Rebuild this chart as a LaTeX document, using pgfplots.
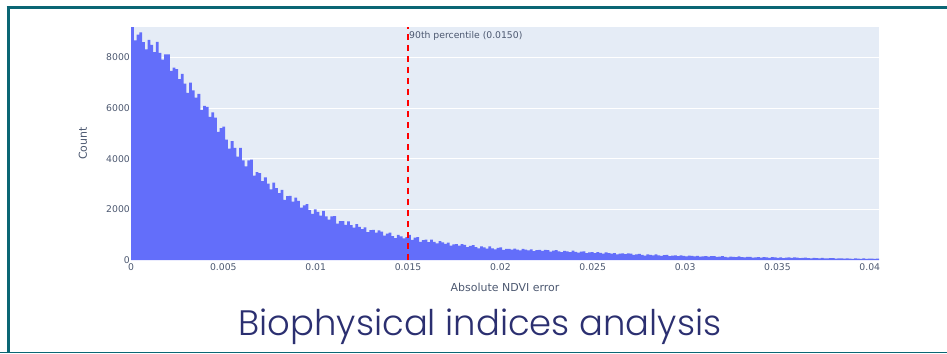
\documentclass[border=0pt]{standalone}
\usepackage{pgfplots}
\pgfplotsset{compat=1.18}
\usepackage{fontspec}
\setmainfont{DejaVu Sans}
\newfontfamily\titlefont{Poppins}[UprightFont=* Light]
\definecolor{framec}{HTML}{0B6674}
\definecolor{bgc}{HTML}{E5ECF6}
\definecolor{barc}{HTML}{636EFA}
\definecolor{tickc}{HTML}{4C5870}
\definecolor{titlec}{HTML}{2B2F70}
\begin{document}
\begin{tikzpicture}[x=1bp,y=1bp]
\path[use as bounding box] (0,0) rectangle (947,353);
\begin{axis}[
  at={(131bp,93bp)}, anchor=south west,
  scale only axis, width=748bp, height=233bp,
  xmin=0, xmax=0.0405, ymin=0, ymax=9210,
  axis background/.style={fill=bgc},
  axis line style={draw=none},
  tick style={draw=none},
  ymajorgrids, major grid style={white, line width=1bp},
  ytick={0,2000,4000,6000,8000},
  xtick={0,0.005,0.01,0.015,0.02,0.025,0.03,0.035,0.04},
  scaled x ticks=false, scaled y ticks=false,
  x tick label style={/pgf/number format/fixed, /pgf/number format/precision=3},
  y tick label style={/pgf/number format/set thousands separator={}, inner sep=1bp},
  /pgf/number format/assume math mode=true,
  tick label style={font=\fontsize{9.3}{10}\selectfont, text=tickc},
  xlabel={Absolute NDVI error}, ylabel={Count},
  every axis x label/.style={at={(axis description cs:0.5,-0.116)}, anchor=center, text=tickc, font=\fontsize{11}{12}\selectfont},
  every axis y label/.style={at={(axis description cs:-0.0642,0.5)}, anchor=center, rotate=90, text=tickc, font=\fontsize{11}{12}\selectfont},
  clip=true,
]
\addplot[fill=barc, draw=none, const plot mark left] table {
x y
0.00000 9200
0.00015 8685
0.00030 8910
0.00045 9000
0.00060 8610
0.00075 8325
0.00090 8700
0.00105 8505
0.00120 8220
0.00135 8625
0.00150 8190
0.00165 7920
0.00180 8130
0.00195 8130
0.00210 7480
0.00225 7600
0.00240 7540
0.00255 7150
0.00270 7360
0.00285 6970
0.00300 6610
0.00315 7015
0.00330 6700
0.00345 6415
0.00360 6570
0.00375 5925
0.00390 6090
0.00405 6050
0.00420 5660
0.00435 5840
0.00450 5630
0.00465 5060
0.00480 5210
0.00495 5270
0.00510 4760
0.00525 4400
0.00540 4700
0.00555 4435
0.00570 4090
0.00585 4435
0.00600 3940
0.00615 3700
0.00630 3940
0.00645 3970
0.00660 3340
0.00675 3475
0.00690 3430
0.00705 3120
0.00720 3270
0.00735 3020
0.00750 2790
0.00765 3055
0.00780 2840
0.00795 2645
0.00810 2770
0.00825 2375
0.00840 2520
0.00855 2530
0.00870 2310
0.00885 2470
0.00900 2340
0.00915 2070
0.00930 2160
0.00945 2205
0.00960 1975
0.00975 1825
0.00990 2005
0.01005 1900
0.01020 1750
0.01035 1945
0.01050 1720
0.01065 1600
0.01080 1720
0.01095 1735
0.01110 1440
0.01125 1535
0.01140 1540
0.01155 1385
0.01170 1530
0.01185 1380
0.01200 1280
0.01215 1417
0.01230 1314
0.01245 1221
0.01260 1290
0.01275 1100
0.01290 1180
0.01305 1191
0.01320 1084
0.01335 1167
0.01350 1120
0.01365 959
0.01380 1038
0.01395 1087
0.01410 948
0.01425 860
0.01440 992
0.01455 935
0.01470 850
0.01485 900
0.01500 990
0.01515 792
0.01530 884
0.01545 906
0.01560 718
0.01575 790
0.01590 802
0.01605 705
0.01620 810
0.01635 715
0.01650 662
0.01665 749
0.01680 692
0.01695 641
0.01710 684
0.01725 570
0.01740 618
0.01755 626
0.01770 568
0.01785 623
0.01800 601
0.01815 507
0.01830 556
0.01845 588
0.01860 506
0.01875 455
0.01890 536
0.01905 503
0.01920 452
0.01935 539
0.01950 458
0.01965 420
0.01980 479
0.01995 495
0.02010 397
0.02025 436
0.02040 443
0.02055 406
0.02070 448
0.02085 411
0.02100 378
0.02115 442
0.02130 409
0.02145 381
0.02160 416
0.02175 348
0.02190 387
0.02205 398
0.02220 363
0.02235 403
0.02250 392
0.02265 332
0.02280 368
0.02295 392
0.02310 340
0.02325 308
0.02340 363
0.02355 342
0.02370 310
0.02385 370
0.02400 317
0.02415 293
0.02430 332
0.02445 343
0.02460 271
0.02475 302
0.02490 310
0.02505 273
0.02520 316
0.02535 279
0.02550 253
0.02565 299
0.02580 273
0.02595 250
0.02610 275
0.02625 222
0.02640 251
0.02655 258
0.02670 230
0.02685 258
0.02700 248
0.02715 201
0.02730 227
0.02745 244
0.02760 203
0.02775 177
0.02790 218
0.02805 202
0.02820 178
0.02835 223
0.02850 184
0.02865 166
0.02880 196
0.02895 205
0.02910 151
0.02925 175
0.02940 181
0.02955 154
0.02970 187
0.02985 160
0.03000 144
0.03015 176
0.03030 159
0.03045 145
0.03060 163
0.03075 129
0.03090 148
0.03105 154
0.03120 136
0.03135 156
0.03150 150
0.03165 119
0.03180 137
0.03195 149
0.03210 122
0.03225 106
0.03240 135
0.03255 125
0.03270 109
0.03285 139
0.03300 114
0.03315 102
0.03330 122
0.03345 128
0.03360 92
0.03375 108
0.03390 112
0.03405 94
0.03420 117
0.03435 99
0.03450 84
0.03465 116
0.03480 101
0.03495 87
0.03510 106
0.03525 72
0.03540 93
0.03555 99
0.03570 82
0.03585 102
0.03600 92
0.03615 74
0.03630 84
0.03645 91
0.03660 75
0.03675 66
0.03690 82
0.03705 76
0.03720 66
0.03735 84
0.03750 68
0.03765 60
0.03780 72
0.03795 75
0.03810 53
0.03825 63
0.03840 66
0.03855 55
0.03870 67
0.03885 57
0.03900 47
0.03915 67
0.03930 57
0.03945 49
0.03960 60
0.03975 40
0.03990 52
0.04005 56
0.04020 45
0.04035 58
0.04050 58
} \closedcycle;
\addplot[red, line width=2bp, dash pattern=on 6bp off 5bp] coordinates {(0.015,0) (0.015,9210)};
\node[anchor=north west, inner sep=1bp, font=\fontsize{9.3}{10}\selectfont, text=tickc] at (axis cs:0.015,9080) {90th percentile (0.0150)};
\end{axis}
\draw[framec, line width=3.5bp] (6.7,345.5) -- (947,345.5);
\draw[framec, line width=3bp] (8.5,0) -- (8.5,347.25);
\draw[framec, line width=1.5bp] (0,0.75) -- (947,0.75);
\node[titlec, font=\titlefont\fontsize{35.5}{37}\selectfont, anchor=base] at (480,18) {Biophysical indices analysis};
\end{tikzpicture}
\end{document}
